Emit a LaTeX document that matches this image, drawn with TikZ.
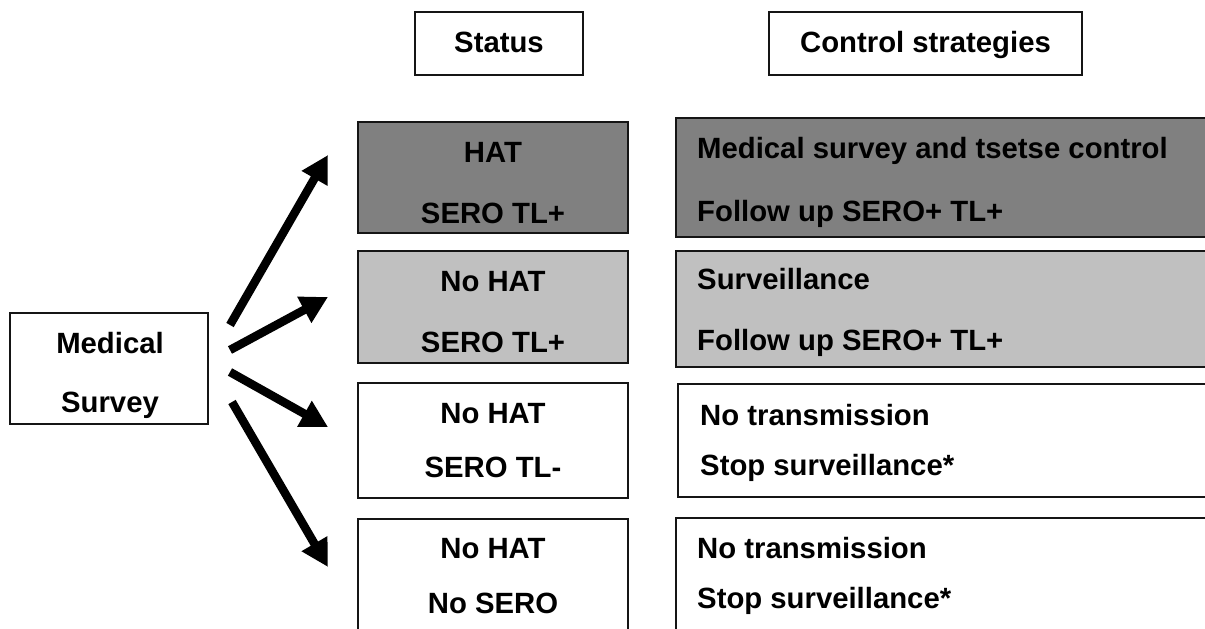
\documentclass[tikz,border=0pt]{standalone}
\usepackage{fontspec}
\setmainfont{Liberation Sans}
\usetikzlibrary{arrows.meta}
\definecolor{darkbox}{HTML}{808080}
\definecolor{lightbox}{HTML}{C0C0C0}
\definecolor{edge}{HTML}{151515}
\begin{document}
\begin{tikzpicture}[x=1pt,y=-1pt,
  box/.style={draw=edge,line width=2pt,rectangle,inner sep=0pt,outer sep=0pt},
  txt/.style={anchor=base,inner sep=0pt,font=\fontsize{29.3}{34}\selectfont\bfseries},
  ltxt/.style={anchor=base west,inner sep=0pt,font=\fontsize{29.3}{34}\selectfont\bfseries},
  arr/.style={line width=8.5pt,-{Triangle[length=27pt,width=28pt]}}]
\path[use as bounding box] (0,0) rectangle (1205,629);
\clip (0,0) rectangle (1205,629);
\fill[white] (0,0) rectangle (1205,629);
% headers
\node[box,minimum width=168pt,minimum height=63pt] (hstatus) at (499,43.5) {};
\node[txt] (tstatus) at (499,52) {Status};
\node[box,minimum width=313pt,minimum height=63pt] (hcontrol) at (925.5,43.5) {};
\node[txt] (tcontrol) at (925.5,52) {Control strategies};
% medical survey
\node[box,minimum width=198pt,minimum height=111pt] (ms) at (109,368.5) {};
\node[txt] (ms1) at (110,353) {Medical};
\node[txt] (ms2) at (110,412) {Survey};
% status column
\node[box,fill=darkbox,minimum width=270pt,minimum height=111pt] (s1) at (493,177.5) {};
\node[txt] (s1a) at (493,162) {HAT};
\node[txt] (s1b) at (493,223) {SERO TL+};
\node[box,fill=lightbox,minimum width=270pt,minimum height=112pt] (s2) at (493,307) {};
\node[txt] (s2a) at (493,291) {No HAT};
\node[txt] (s2b) at (493,352) {SERO TL+};
\node[box,fill=white,minimum width=270pt,minimum height=115pt] (s3) at (493,440.5) {};
\node[txt] (s3a) at (493,423) {No HAT};
\node[txt] (s3b) at (493,477) {SERO TL-};
\node[box,fill=white,minimum width=270pt,minimum height=131pt] (s4) at (493,584.5) {};
\node[txt] (s4a) at (493,558) {No HAT};
\node[txt] (s4b) at (493,613) {No SERO};
% control column
\node[box,fill=darkbox,minimum width=554pt,minimum height=119pt] (c1) at (953,177.5) {};
\node[ltxt] (c1a) at (697,158) {Medical survey and tsetse control};
\node[ltxt] (c1b) at (697,221) {Follow up SERO+ TL+};
\node[box,fill=lightbox,minimum width=554pt,minimum height=116pt] (c2) at (953,309) {};
\node[ltxt] (c2a) at (697,289) {Surveillance};
\node[ltxt] (c2b) at (697,350) {Follow up SERO+ TL+};
\node[box,fill=white,minimum width=552pt,minimum height=113pt] (c3) at (954,440.5) {};
\node[ltxt] (c3a) at (700,425) {No transmission};
\node[ltxt] (c3b) at (700,475) {Stop surveillance*};
\node[box,fill=white,minimum width=554pt,minimum height=132pt] (c4) at (953,584) {};
\node[ltxt] (c4a) at (697,558) {No transmission};
\node[ltxt] (c4b) at (697,608) {Stop surveillance*};
% arrows
\coordinate (a1s) at (230,325); \coordinate (a1e) at (328,155);
\coordinate (a2s) at (230,350); \coordinate (a2e) at (328,297);
\coordinate (a3s) at (230,372); \coordinate (a3e) at (328,427);
\coordinate (a4s) at (232,402); \coordinate (a4e) at (328,567);
\draw[arr] (a1s) -- (a1e);
\draw[arr] (a2s) -- (a2e);
\draw[arr] (a3s) -- (a3e);
\draw[arr] (a4s) -- (a4e);
\end{tikzpicture}
\end{document}
